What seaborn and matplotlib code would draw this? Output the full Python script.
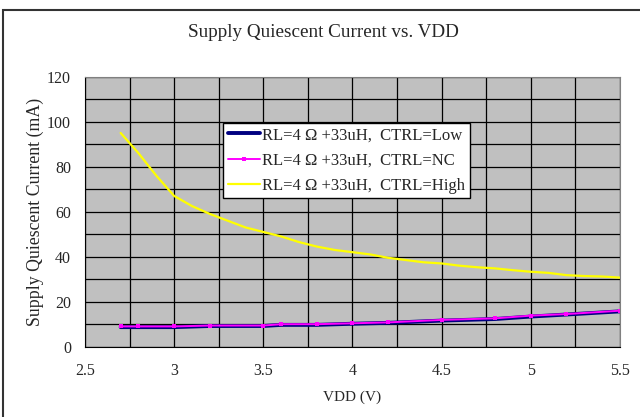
import numpy as np
import pandas as pd
import seaborn as sns
import matplotlib.pyplot as plt
from matplotlib.patches import Rectangle

# Supply voltage (V)
vdd_high = [2.7, 2.8, 2.9, 3.0, 3.1, 3.2, 3.3, 3.4, 3.5, 3.6, 3.7, 3.8, 3.9, 4.0, 4.1,
            4.2, 4.3, 4.4, 4.5, 4.6, 4.7, 4.8, 4.9, 5.0, 5.1, 5.2, 5.3, 5.4, 5.5]
i_high = [95, 86, 76, 67, 62.5, 59, 56, 53, 51, 49, 46.5, 44.5, 43, 42, 41,
          39.5, 38.5, 37.5, 37, 36, 35.3, 34.8, 34, 33.3, 32.8, 31.8, 31.4, 31.2, 30.7]

vdd_low = [2.7, 2.8, 3.0, 3.2, 3.5, 3.6, 3.8, 4.0, 4.2, 4.5, 4.8, 5.0, 5.2, 5.5]
i_nc = [9.0, 9.0, 9.0, 9.4, 9.4, 10.0, 10.0, 10.4, 10.8, 11.9, 12.6, 13.8, 14.5, 16.0]
i_low = [8.7, 8.7, 8.7, 9.2, 9.2, 9.7, 9.7, 10.2, 10.6, 11.6, 12.3, 13.4, 14.3, 15.7]

labels = ['RL=4 \u03a9 +33uH,  CTRL=Low',
          'RL=4 \u03a9 +33uH,  CTRL=NC',
          'RL=4 \u03a9 +33uH,  CTRL=High']

sns.set_style('white')
plt.rcParams['font.family'] = ['Liberation Serif', 'DejaVu Serif']

fig = plt.figure(figsize=(6.4, 4.17), dpi=100)
ax = fig.add_axes([0.1328, 0.1686, 0.8359, 0.6475])

# outer chart frame
fig.patches.append(Rectangle((3 / 640, -0.05), 1.1, 1 - 10 / 417 + 0.05,
                             transform=fig.transFigure, fill=False,
                             edgecolor='#333333', linewidth=1.5))

ax.set_facecolor('#C0C0C0')

sns.lineplot(x=vdd_low, y=i_low, ax=ax, color='#000080', linewidth=2.8, label=labels[0])
sns.lineplot(x=vdd_low, y=i_nc, ax=ax, color='#FF00FF', linewidth=1.4, marker='s',
             markersize=3.5, markeredgewidth=0, label=labels[1])
sns.lineplot(x=vdd_high, y=i_high, ax=ax, color='#FFFF00', linewidth=1.6, label=labels[2])

ax.set_xlim(2.5, 5.5)
ax.set_ylim(0, 120)
ax.set_xticks(np.arange(2.5, 5.51, 0.5))
ax.set_xticklabels(['2.5', '3', '3.5', '4', '4.5', '5', '5.5'])
ax.set_yticks(np.arange(0, 121, 20))
ax.set_xticks(np.arange(2.5, 5.51, 0.25), minor=True)
ax.set_yticks(np.arange(0, 121, 10), minor=True)
ax.grid(True, which='both', color='black', linewidth=0.9)
ax.tick_params(axis='both', which='both', length=0, labelsize=11.5, pad=12)
ax.tick_params(axis='y', pad=10)

for side in ['top', 'right']:
    ax.spines[side].set_color('#808080')
for side in ['left', 'bottom']:
    ax.spines[side].set_color('black')

ax.set_xlabel('VDD (V)', fontsize=11, labelpad=8)
ax.set_ylabel('Supply Quiescent Current (mA)', fontsize=12.8, labelpad=2)
fig.text(0.505, 0.923, 'Supply Quiescent Current vs. VDD', ha='center', va='center', fontsize=13.8)

leg = ax.legend(loc='upper left', bbox_to_anchor=(0.258, 0.83), fontsize=12,
                frameon=True, fancybox=False, framealpha=1, edgecolor='black',
                borderpad=0.28, labelspacing=0.55, handlelength=1.95, handletextpad=0.1,
                borderaxespad=0)
leg.get_frame().set_linewidth(1.0)

fig.savefig('out.png', dpi=100)
